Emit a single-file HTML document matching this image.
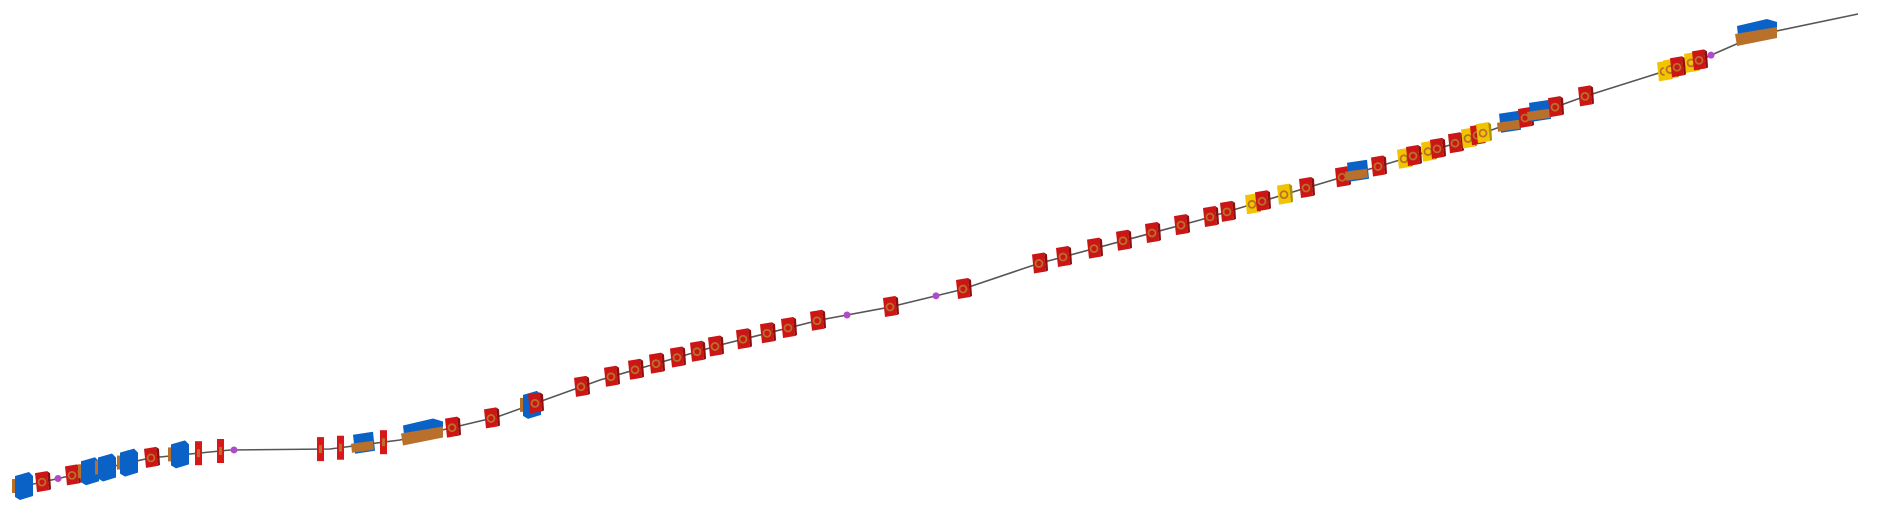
<!DOCTYPE html>
<html><head><meta charset="utf-8"><style>
html,body{margin:0;padding:0;background:#fff;}
svg{display:block;}
</style></head><body>
<svg id="chart" width="1878" height="516" viewBox="0 0 1878 516" xmlns="http://www.w3.org/2000/svg">
<polyline id="beam" fill="none" stroke="#555" stroke-width="1.6"/>
<g id="elems"></g>
</svg>
<script>
// beam path (x positions of path nodes and y)
const pathX = [20,150,230,330,400,497,600,720,820,890,960,1037,1200,1306,1450,1586,1700,1757,1858];
const pathY = [487,458,450,449,440,417,380,345,320,307,290,264,220,188,145,96,60,35,14];
// elements: x position along beam and type
const elemX = [20,42,58,72,86,103,125,151,176,198,220,234,320,340,363,383,423,452,491,528,535,581,611,635,656,677,697,715,743,767,788,817,847,890,936,963,1039,1063,1094,1123,1152,1181,1210,1227,1252,1262,1284,1306,1342,1357,1378,1404,1413,1428,1437,1455,1468,1477,1483,1509,1525,1539,1555,1585,1664,1670,1677,1691,1699,1711,1757];
const elemType = ["blue","quad","purple","quad","blue","blue","blue","quad","blue","disc","disc","purple","disc","disc","bluebrown","disc","bluebig","quad","quad","blue","quad","quad","quad","quad","quad","quad","quad","quad","quad","quad","quad","quad","purple","quad","purple","quad","quad","quad","quad","quad","quad","quad","quad","quad","yellow","quad","yellow","quad","quad","bluebrown","quad","yellow","quad","yellow","quad","quad","yellow","quad","yellow","bluebrown","quad","bluebrown","quad","quad","yellow","yellow","quad","yellow","quad","purple","bluebig"];

function yAt(x){
  for(let i=0;i<pathX.length-1;i++){
    if(x<=pathX[i+1]){const t=(x-pathX[i])/(pathX[i+1]-pathX[i]);return pathY[i]+t*(pathY[i+1]-pathY[i]);}
  }
  return pathY[pathY.length-1];
}
const ns="http://www.w3.org/2000/svg";
const beam=document.getElementById('beam');
beam.setAttribute('points',pathX.map((x,i)=>x+','+pathY[i]).join(' '));
const g=document.getElementById('elems');
function mk(tag,attrs,parent){const e=document.createElementNS(ns,tag);for(const k in attrs)e.setAttribute(k,attrs[k]);parent.appendChild(e);return e;}
elemX.forEach((x,i)=>{
  const y=yAt(x), t=elemType[i];
  const grp=document.createElementNS(ns,'g');
  
  
  g.appendChild(grp);
  if(t==='quad'||t==='yellow'){
    const c=t==='quad'?'#cc1515':'#f2c400', d=t==='quad'?'#8e0d0d':'#b08e00';
    mk('polygon',{points:`${x-7},${y-9} ${x+5},${y-11} ${x+7},${y+8} ${x-5},${y+10}`,fill:c},grp);
    mk('polygon',{points:`${x+5},${y-11} ${x+8},${y-9} ${x+9},${y+7} ${x+7},${y+8}`,fill:d},grp);
    mk('circle',{cx:x,cy:y,r:3.5,fill:'none',stroke:'#b8702a','stroke-width':1.8},grp);
  } else if(t==='disc'){
    mk('rect',{x:x-3,y:y-12,width:7,height:24,fill:'#d81818'},grp);
    mk('rect',{x:x-1,y:y-4,width:3,height:8,fill:'#b8702a'},grp);
  } else if(t==='purple'){
    mk('circle',{cx:x,cy:y,r:3.5,fill:'#b04ac8'},grp);
  } else if(t==='blue'){
    mk('rect',{x:x-8,y:y-8,width:5,height:14,fill:'#b8702a'},grp);
    mk('polygon',{points:`${x-5},${y-11} ${x+9},${y-15} ${x+13},${y-11} ${x+13},${y+9} ${x},${y+13} ${x-5},${y+10}`,fill:'#0a62c6'},grp);
  } else if(t==='bluebrown'){
    mk('polygon',{points:`${x-10},${y-10} ${x+10},${y-13} ${x+12},${y+6} ${x-8},${y+9}`,fill:'#0a62c6'},grp);
    mk('polygon',{points:`${x-12},${y-1} ${x+10},${y-4} ${x+11},${y+5} ${x-11},${y+8}`,fill:'#b8702a'},grp);
  } else if(t==='bluebig'){
    mk('polygon',{points:`${x-20},${y-9} ${x+10},${y-16} ${x+20},${y-13} ${x+20},${y+2} ${x-18},${y+10}`,fill:'#0a62c6'},grp);
    mk('polygon',{points:`${x-22},${y-1} ${x+20},${y-8} ${x+20},${y+3} ${x-20},${y+11}`,fill:'#b8702a'},grp);
  }
});
</script>
</body></html>
